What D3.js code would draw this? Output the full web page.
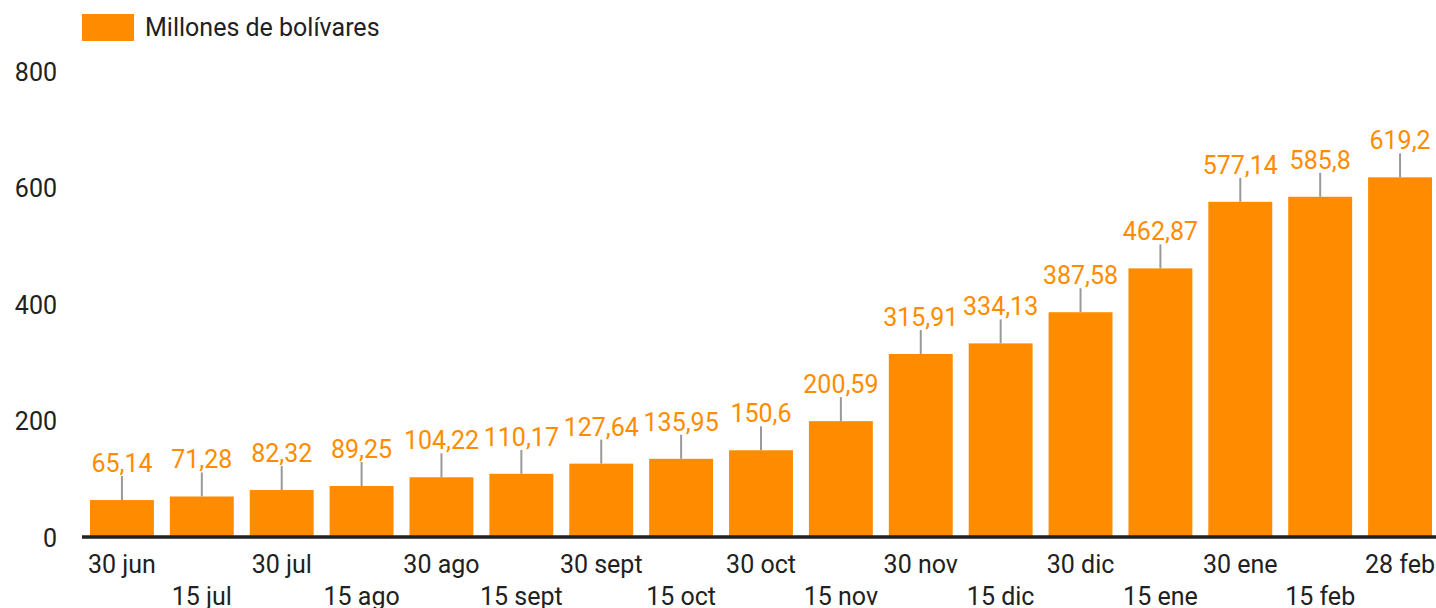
<!DOCTYPE html>
<html>
<head>
<meta charset="utf-8">
<script src="https://cdn.jsdelivr.net/npm/d3@7"></script>
<style>
  html, body { margin: 0; padding: 0; background: #fff; }
  svg { display: block; font-family: Roboto, sans-serif; }
</style>
</head>
<body>
<svg id="chart" width="1436" height="608"></svg>
<script>
// --- Données ---
const categories = ["30 jun", "15 jul", "30 jul", "15 ago", "30 ago", "15 sept", "30 sept", "15 oct",
    "30 oct", "15 nov", "30 nov", "15 dic", "30 dic", "15 ene", "30 ene", "15 feb", "28 feb"];
const values = [65.14, 71.28, 82.32, 89.25, 104.22, 110.17, 127.64, 135.95,
    150.6, 200.59, 315.91, 334.13, 387.58, 462.87, 577.14, 585.8, 619.2];
const valueLabels = ["65,14", "71,28", "82,32", "89,25", "104,22", "110,17", "127,64", "135,95",
    "150,6", "200,59", "315,91", "334,13", "387,58", "462,87", "577,14", "585,8", "619,2"];
const yTicks = [0, 200, 400, 600, 800];
const seriesName = "Millones de bolívares";

const orange = "#ff8c00";
const textColor = "#212121";
const fontSize = 25;

const svg = d3.select("#chart");

// Échelles
const x = d3.scaleBand()
    .domain(categories)
    .range([82, 1440])
    .paddingInner(0.2)
    .paddingOuter(0.1);

const y = d3.scaleLinear()
    .domain([0, 800])
    .range([538, 72]);

// Légende
const legend = svg.append("g").attr("class", "legend");
legend.append("rect")
    .attr("x", 82).attr("y", 14)
    .attr("width", 52).attr("height", 27)
    .attr("fill", orange);
legend.append("text")
    .attr("x", 145).attr("y", 36)
    .attr("font-size", fontSize)
    .attr("fill", textColor)
    .text(seriesName);

// Axe Y (étiquettes seulement)
svg.append("g")
    .selectAll("text")
    .data(yTicks)
    .join("text")
    .attr("x", 57)
    .attr("y", d => y(d))
    .attr("dy", "0.35em")
    .attr("text-anchor", "end")
    .attr("font-size", fontSize)
    .attr("fill", textColor)
    .text(d => d);

// Barres
svg.append("g")
    .selectAll("rect")
    .data(values)
    .join("rect")
    .attr("x", (d, i) => x(categories[i]))
    .attr("y", d => y(d))
    .attr("width", x.bandwidth())
    .attr("height", d => y(0) - y(d))
    .attr("fill", orange);

// Traits de rappel + étiquettes de valeur
const cx = i => x(categories[i]) + x.bandwidth() / 2;
svg.append("g")
    .selectAll("line")
    .data(values)
    .join("line")
    .attr("x1", (d, i) => cx(i))
    .attr("x2", (d, i) => cx(i))
    .attr("y1", d => y(d))
    .attr("y2", d => y(d) - 24)
    .attr("stroke", "#999")
    .attr("stroke-width", 2);

svg.append("g")
    .selectAll("text")
    .data(values)
    .join("text")
    .attr("x", (d, i) => cx(i))
    .attr("y", d => y(d) - 28)
    .attr("text-anchor", "middle")
    .attr("font-size", fontSize)
    .attr("fill", orange)
    .text((d, i) => valueLabels[i]);

// Axe X
svg.append("line")
    .attr("x1", 82).attr("x2", 1436)
    .attr("y1", 537).attr("y2", 537)
    .attr("stroke", textColor)
    .attr("stroke-width", 3.5);

svg.append("g")
    .selectAll("text")
    .data(categories)
    .join("text")
    .attr("x", (d, i) => cx(i))
    .attr("y", (d, i) => i % 2 === 0 ? 573 : 605)
    .attr("text-anchor", "middle")
    .attr("font-size", fontSize)
    .attr("fill", textColor)
    .text(d => d);
</script>
</body>
</html>
